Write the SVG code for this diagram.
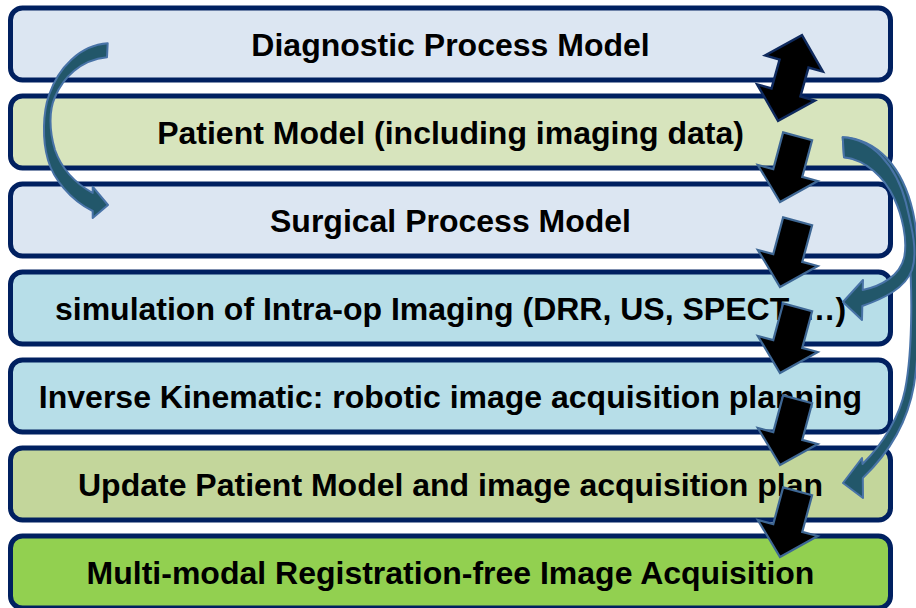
<svg xmlns="http://www.w3.org/2000/svg" width="916" height="608" viewBox="0 0 916 608">
  <defs>
    <style>
      .box { stroke: #002060; stroke-width: 5; }
      .lbl { font-family: "Liberation Sans", Arial, sans-serif; font-weight: bold; font-size: 32px; fill: #000; text-anchor: middle; }
      .flow { fill: #000; stroke: #3E6794; stroke-width: 2.2; stroke-linejoin: miter; }
      .dbl { fill: #000; stroke: #0F2A5E; stroke-width: 2.4; stroke-linejoin: miter; }
      .curve { fill: #22576A; stroke: #4873A7; stroke-width: 2; stroke-linejoin: round; }
    </style>
    <path id="down" d="M-15,-68 L15,-68 L15,-30 L31,-30 L0,0 L-31,-30 L-15,-30 Z"/>
  </defs>

  <!-- process steps -->
  <g id="diagnostic-process-model">
    <rect class="box" x="10.5" y="8" width="880" height="72" rx="12" fill="#DCE6F2"/>
    <text class="lbl" x="450.5" y="56">Diagnostic Process Model</text>
  </g>
  <g id="patient-model">
    <rect class="box" x="10.5" y="96" width="880" height="72" rx="12" fill="#D7E4BD"/>
    <text class="lbl" x="450.5" y="144">Patient Model (including imaging data)</text>
  </g>
  <g id="surgical-process-model">
    <rect class="box" x="10.5" y="184" width="880" height="72" rx="12" fill="#DCE6F2"/>
    <text class="lbl" x="450.5" y="232">Surgical Process Model</text>
  </g>
  <g id="imaging-simulation">
    <rect class="box" x="10.5" y="272" width="880" height="72" rx="12" fill="#B7DEE8"/>
    <text class="lbl" x="450.5" y="320">simulation of Intra-op Imaging (DRR, US, SPECT, …)</text>
  </g>
  <g id="inverse-kinematic">
    <rect class="box" x="10.5" y="360" width="880" height="72" rx="12" fill="#B7DEE8"/>
    <text class="lbl" x="450.5" y="408">Inverse Kinematic: robotic image acquisition planning</text>
  </g>
  <g id="update-patient-model">
    <rect class="box" x="10.5" y="448" width="880" height="72" rx="12" fill="#C3D69B"/>
    <text class="lbl" x="450.5" y="496">Update Patient Model and image acquisition plan</text>
  </g>
  <g id="image-acquisition">
    <rect class="box" x="10.5" y="536" width="880" height="72" rx="12" fill="#92D050"/>
    <text class="lbl" x="450.5" y="584">Multi-modal Registration-free Image Acquisition</text>
  </g>

  <!-- connectors -->
  <g id="connectors">
    <!-- left curved arrow: diagnostic model to surgical model -->
    <path class="curve" d="M107.7,43.3 C80,45 58,68 49,95 C43,112 42,140 48,160 C53,178 70,200 92.7,211 L92.7,218 L108,205 L92.7,186.7 L92.7,193 C75,183 62,170 55,150 C49,130 49,110 55,97 C63,78 80,60 107,57.3 Z"/>
    <!-- right curved arrows from the patient model -->
    <path class="curve" d="M842.7,137.3 C878,139 903,168 913,212 C921,250 922,330 914,385 C908,420 890,452 862.8,478 L863,498 L843,483 L862,458 L862.5,464 C884,443 900,415 905,390 C913,350 913,275 907,235 C899,195 878,160 844,157.3 Z"/>
    <path class="curve" d="M842.7,137.3 C872,139 896,165 906,203 C912,228 918,252 912,270 C905,288 885,298 862.3,306 L862,320 L843,302 L863,280 L862.7,290 C882,286 900,275 904,258 C908,240 902,215 894,198 C884,177 866,160 844,157.3 Z"/>
    <!-- two-way arrow between diagnostic and patient models -->
    <path class="dbl" transform="translate(790,78) rotate(15.6)" d="M0,-44.5 L30,-15 L15,-15 L15,15 L30,15 L0,44.5 L-30,15 L-15,15 L-15,-15 L-30,-15 Z"/>
    <!-- step-to-step arrows -->
    <use href="#down" class="flow" transform="translate(780,202) rotate(15)"/>
    <use href="#down" class="flow" transform="translate(780,287) rotate(15)"/>
    <use href="#down" class="flow" transform="translate(780,373) rotate(15)"/>
    <use href="#down" class="flow" transform="translate(780,465) rotate(15)"/>
    <use href="#down" class="flow" transform="translate(780,557) rotate(15)"/>
  </g>
</svg>
